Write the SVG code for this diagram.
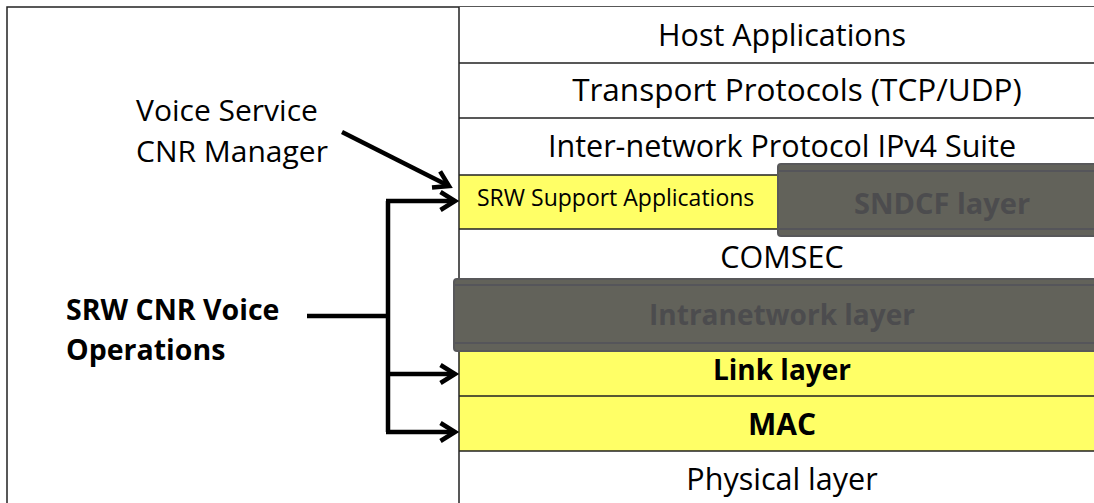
<svg xmlns="http://www.w3.org/2000/svg" width="1094" height="503" viewBox="0 0 1094 503">
<style>
.t{font-family:"Open Sans","Liberation Sans",Arial,sans-serif;fill:#000}
.c{text-anchor:middle}
.b{font-weight:bold}
.row{fill:#fff}
.yel{fill:#ffff66}
.ln{stroke:#222;stroke-width:1.5;fill:none}
.gray{fill:#62625a;stroke:#58585a;stroke-width:2}
.gl{stroke:#55555a;stroke-width:2;fill:none}
.gt{font-family:"Open Sans","Liberation Sans",Arial,sans-serif;font-weight:bold;fill:#4c4c4e;text-anchor:middle}
.con{fill:none;stroke:#000;stroke-width:4.5}
</style>
<defs>
<marker id="ah" markerWidth="10" markerHeight="10" refX="8.5" refY="5" orient="auto" markerUnits="userSpaceOnUse" viewBox="0 0 10 10" overflow="visible">
<path d="M-6,-4 L8.5,5 L-6,14" fill="none" stroke="#000" stroke-width="4.5"/>
</marker>
</defs>
<rect width="1094" height="503" fill="#fff"/>
<path class="ln" d="M7,503 V7 H1094"/>
<g id="host"><rect class="row" x="459" y="7" width="635" height="56"/><text class="t c" x="782" y="46" font-size="30.5">Host Applications</text></g>
<g id="transport"><rect class="row" x="459" y="63" width="635" height="55"/><text class="t c" x="797" y="101" font-size="31.5">Transport Protocols (TCP/UDP)</text></g>
<g id="internet"><rect class="row" x="459" y="118" width="635" height="57"/><text class="t c" x="782" y="157" font-size="30.5">Inter-network Protocol IPv4 Suite</text></g>
<g id="srwsupport"><rect class="yel" x="459" y="175" width="635" height="54"/><text class="t" x="477" y="206" font-size="23">SRW Support  Applications</text></g>
<g id="comsec"><rect class="row" x="459" y="229" width="635" height="111"/><text class="t c" x="782" y="268" font-size="30.5">COMSEC</text></g>
<g id="link"><rect class="yel" x="459" y="340" width="635" height="56"/><text class="t c b" x="782" y="380" font-size="28">Link layer</text></g>
<g id="mac"><rect class="yel" x="459" y="396" width="635" height="55"/><text class="t c b" x="782" y="435" font-size="30">MAC</text></g>
<g id="physical"><rect class="row" x="459" y="451" width="635" height="52"/><text class="t c" x="782" y="490" font-size="30.5">Physical layer</text></g>
<path class="ln" d="M459,7 V503 M459,63 H1094 M459,118 H1094 M459,175 H1094 M459,229 H1094 M459,396 H1094 M459,451 H1094"/>
<g id="sndcf"><rect class="gray" x="778" y="164" width="330" height="72" rx="3"/><path class="gl" d="M779,171 H1108 M779,229 H1108"/><text class="gt" x="942" y="214" font-size="29">SNDCF  layer</text></g>
<g id="intranet"><rect class="gray" x="454" y="279" width="654" height="72" rx="3"/><path class="gl" d="M455,285 H1108 M455,343 H1108"/><text class="gt" x="782" y="325" font-size="28">Intranetwork layer</text></g>
<g id="voice-mgr"><text class="t" x="136" y="121" font-size="30">Voice Service</text><text class="t" x="136" y="162" font-size="30">CNR Manager</text></g>
<g id="voice-ops"><text class="t b" x="66" y="320" font-size="28.5">SRW CNR Voice</text><text class="t b" x="66" y="360" font-size="28.5">Operations</text></g>
<g id="connectors">
<path class="con" d="M342,132 L449,186" marker-end="url(#ah)"/>
<path class="con" d="M307,316 H388"/>
<path class="con" d="M388,201 V432"/>
<path class="con" d="M386,201 H455" marker-end="url(#ah)"/>
<path class="con" d="M388,374 H455" marker-end="url(#ah)"/>
<path class="con" d="M386,432 H455" marker-end="url(#ah)"/>
</g>
</svg>
